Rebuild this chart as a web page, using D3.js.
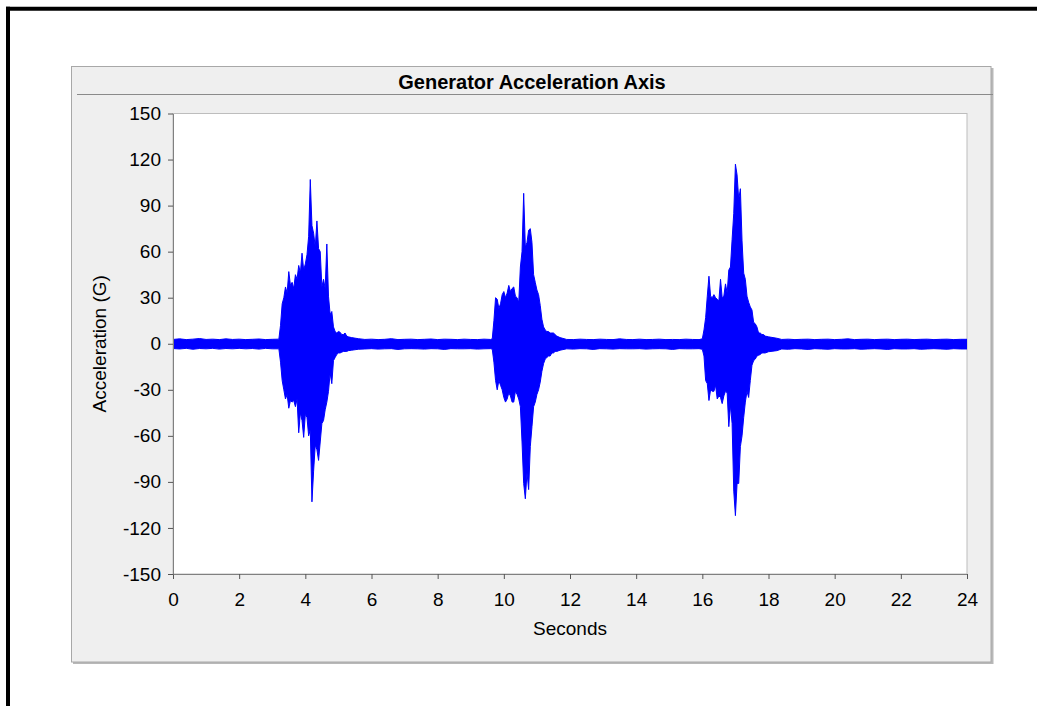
<!DOCTYPE html>
<html><head><meta charset="utf-8">
<script src="https://cdn.jsdelivr.net/npm/d3@7"></script>
<style>body{margin:0;background:#fff}svg{display:block}text{font-family:Arial,"Liberation Sans",sans-serif}</style>
</head><body><svg id="c" width="1037" height="706"></svg>
<script>
const chartTitle = "Generator Acceleration Axis";
const xLabel = "Seconds";
const yLabel = "Acceleration (G)";
const xTicks = [0,2,4,6,8,10,12,14,16,18,20,22,24];
const yTicks = [-150,-120,-90,-60,-30,0,30,60,90,120,150];

// envelope of the signal (seconds, max G, min G)
const timeSec = [
 0,0.2,0.4,0.6,0.8,1.0,1.2,1.4,1.6,1.8,2.0,2.2,2.4,2.6,2.8,3.0,3.2,
 3.25,3.30,3.35,3.40,3.45,3.50,3.55,3.60,3.65,3.70,3.75,3.80,3.85,3.90,3.95,4.00,4.05,4.10,4.15,4.20,
 4.25,4.30,4.35,4.40,4.45,4.50,4.55,4.60,4.65,4.70,4.75,4.80,4.85,4.90,4.95,5.00,5.05,5.10,5.15,5.20,5.25,5.30,5.40,5.60,
 5.8,6.0,6.2,6.4,6.6,6.8,7.0,7.2,7.4,7.6,7.8,8.0,8.2,8.4,8.6,8.8,9.0,9.2,9.4,9.6,
 9.65,9.70,9.75,9.80,9.85,9.90,9.95,10.00,10.05,10.10,10.15,10.20,10.25,10.30,10.35,10.40,10.45,10.50,10.55,10.60,
 10.65,10.70,10.75,10.80,10.85,10.90,10.95,11.00,11.05,11.10,11.15,11.20,11.25,11.30,11.35,11.40,11.45,11.50,11.55,11.60,11.70,
 11.9,12.1,12.3,12.5,12.7,12.9,13.1,13.3,13.5,13.7,13.9,14.1,14.3,14.5,14.7,14.9,15.1,15.3,15.5,15.7,15.9,
 16.00,16.05,16.10,16.15,16.20,16.25,16.30,16.35,16.40,16.45,16.50,16.55,16.60,16.65,16.70,16.75,16.80,16.85,16.90,16.95,
 17.00,17.05,17.10,17.15,17.20,17.25,17.30,17.35,17.40,17.45,17.50,17.55,17.60,17.65,17.70,17.75,17.80,17.85,17.90,18.00,18.25,
 18.4,18.6,18.8,19.0,19.2,19.4,19.6,19.8,20.0,20.2,20.4,20.6,20.8,21.0,21.2,21.4,21.6,21.8,22.0,22.2,22.4,22.6,22.8,23.0,23.2,23.4,23.6,23.8,24.0
];
const upperG = [
 2.8,3.2,2.7,3,3.4,2.8,3,2.7,3.2,2.8,3,2.7,2.9,3.1,2.7,2.9,3,
 12,26,30,37,33,47,38,40,36,45,42,51,46,59,48,52,58,70,107,77,
 72,63,80,62,60,37,42,36,65,31,19,21,11,8,7,8,7.5,6,6,7,5,4.5,4,3.3,
 2.8,3,2.7,2.9,3.3,2.7,2.9,3,2.7,2.9,3.1,2.7,3,2.9,2.7,3,2.8,2.7,3,2.8,
 3.2,15,30,29,23,26,32,34,30,33,38,34,36,37,31,30,27,50,60,98,
 63,66,74,75,66,45,40,35,32,25,16,11,9,8,8,7,7,7,6,5,4,
 2.8,2.7,3,2.8,2.7,3,2.8,2.7,3.2,2.8,2.7,3,2.7,2.8,3,2.7,2.8,2.7,3,2.8,2.7,
 3.2,9,17,31,44,31,30,32,30,29,28,42,30,31,39,33,48,50,68,85,
 117,110,94,101,67,46,42,31,27,24,22,14,13,11,7,7,6,6,5,4.5,3.6,
 2.8,3,2.7,2.9,3,2.7,2.9,3,2.7,2.9,3.2,2.7,2.9,3,2.7,2.9,3,2.7,2.9,3,2.7,2.9,3,2.7,2.9,3,2.7,2.9,2.9
];
const lowerG = [
 -3.1,-3.4,-3,-3.6,-3.1,-3.3,-3,-3.5,-3.1,-3.3,-3,-3.3,-3.1,-3.5,-3,-3.3,-3.3,
 -12,-24,-30,-36,-33,-42,-37,-38,-37,-41,-36,-58,-45,-50,-61,-46,-48,-60,-56,-103,
 -83,-66,-69,-76,-64,-52,-50,-43,-38,-31,-19,-26,-11,-9,-7,-6,-6,-5.5,-5,-5,-5,-4.5,-4.2,-3.6,
 -3.4,-3.2,-3.5,-3.3,-3.2,-3.7,-3.3,-3.2,-3.3,-3.5,-3.2,-3.3,-3.7,-3.2,-3.3,-3.3,-3.2,-3.5,-3.3,-3.2,
 -3.5,-12,-24,-30,-24,-27,-30,-35,-38,-36,-32,-34,-38,-38,-31,-33,-36,-41,-64,-91,
 -101,-84,-95,-67,-54,-41,-38,-33,-30,-25,-18,-13,-10,-9,-8,-8,-6,-6,-5,-5,-4.2,
 -3.3,-3.5,-3.2,-3.3,-3.7,-3.2,-3.3,-3.5,-3.2,-3.3,-3.3,-3.2,-3.5,-3.3,-3.2,-3.3,-3.7,-3.2,-3.3,-3.3,-3.2,
 -3.6,-8,-24,-26,-37,-30,-31,-31,-27,-36,-34,-35,-39,-34,-31,-32,-54,-40,-52,-96,
 -112,-91,-91,-67,-60,-48,-38,-31,-35,-24,-14,-11,-10,-8,-7.5,-7,-6,-6,-6,-5.2,-4.5,
 -3.4,-3.6,-3.2,-3.4,-3.7,-3.2,-3.4,-3.6,-3.2,-3.4,-3.4,-3.2,-3.6,-3.4,-3.2,-3.4,-3.7,-3.2,-3.4,-3.4,-3.2,-3.6,-3.4,-3.2,-3.4,-3.6,-3.2,-3.4,-3.4
];

const svg = d3.select("#c");
// outer black frame (top and left)
svg.append("line").attr("x1",6).attr("x2",1037).attr("y1",8.7).attr("y2",8.7).attr("stroke","#000").attr("stroke-width",4);
svg.append("line").attr("x1",8).attr("x2",8).attr("y1",6.7).attr("y2",706).attr("stroke","#000").attr("stroke-width",4);

// panel with shadow
svg.append("rect").attr("x",73).attr("y",68).attr("width",920.5).attr("height",596).attr("fill","#b8b8b8");
svg.append("rect").attr("x",71.5).attr("y",66.5).attr("width",919.5).attr("height",595.5)
  .attr("fill","#efefef").attr("stroke","#a8a8a8").attr("stroke-width",1);
svg.append("line").attr("x1",77).attr("x2",993).attr("y1",94.5).attr("y2",94.5).attr("stroke","#8a8a8a");
svg.append("text").attr("x",532).attr("y",89).attr("text-anchor","middle")
  .attr("font-size",20).attr("font-weight","bold").attr("fill","#000").text(chartTitle);

const L=173, R=967, T=113.5, B=574;
const x = d3.scaleLinear().domain([0,24]).range([L,R]);
const y = d3.scaleLinear().domain([-150,150]).range([B,T]);

svg.append("rect").attr("x",L).attr("y",T).attr("width",R-L).attr("height",B-T)
  .attr("fill","#fff").attr("stroke","#bdbdbd").attr("stroke-width",1);

svg.append("clipPath").attr("id","clip").append("rect").attr("x",L).attr("y",T).attr("width",R-L).attr("height",B-T);

const area = d3.area()
  .x(i => x(timeSec[i]))
  .y0(i => y(lowerG[i]))
  .y1(i => y(upperG[i]))
  .curve(d3.curveLinear);
svg.append("path").attr("clip-path","url(#clip)")
  .attr("d", area(d3.range(timeSec.length)))
  .attr("fill","#0000ff").attr("stroke","#0000ff").attr("stroke-width",1);

const gx = svg.append("g").attr("transform",`translate(0,${B})`)
  .call(d3.axisBottom(x).tickValues(xTicks).tickFormat(d3.format("d")).tickSize(5).tickSizeOuter(0).tickPadding(14));
const gy = svg.append("g").attr("transform",`translate(${L},0)`)
  .call(d3.axisLeft(y).tickValues(yTicks).tickFormat(d3.format("d")).tickSize(5).tickSizeOuter(0).tickPadding(7));
[gx,gy].forEach(g=>{
  g.select(".domain").attr("stroke","#808080");
  g.selectAll(".tick line").attr("stroke","#555");
  g.selectAll(".tick text").attr("font-size",19).attr("fill","#000")
    .attr("font-family","Arial, 'Liberation Sans', sans-serif");
});
gy.selectAll(".tick text").text(d => d < 0 ? "-" + Math.abs(d) : d);

svg.append("text").attr("x",(L+R)/2).attr("y",635).attr("text-anchor","middle")
  .attr("font-size",19).attr("fill","#000").text(xLabel);
svg.append("text").attr("transform",`translate(106,${(T+B)/2}) rotate(-90)`).attr("text-anchor","middle")
  .attr("font-size",19).attr("fill","#000").text(yLabel);
</script></body></html>
